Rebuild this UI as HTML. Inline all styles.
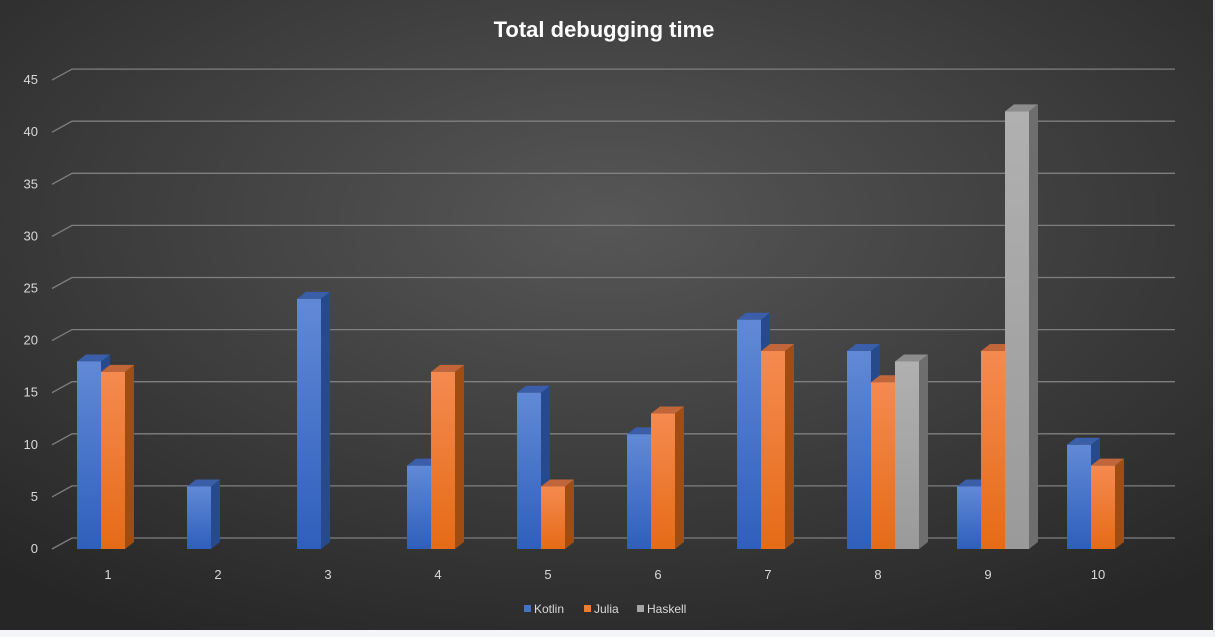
<!DOCTYPE html>
<html><head><meta charset="utf-8"><style>
html,body{margin:0;padding:0;background:#fff;}
#wrap{position:relative;width:1215px;height:637px;overflow:hidden;}
svg text{font-family:"Liberation Sans",sans-serif;}
</style></head><body>
<div id="wrap">
<svg id="chart" width="1215" height="637" xmlns="http://www.w3.org/2000/svg">
<defs>
<radialGradient id="bg" cx="0.5" cy="0.35" r="0.75">
<stop offset="0" stop-color="#575757"/><stop offset="1" stop-color="#262626"/></radialGradient>
<linearGradient id="gK" x1="0" y1="0" x2="0" y2="1"><stop offset="0" stop-color="#6189d6"/><stop offset="1" stop-color="#2f5fbc"/></linearGradient>
<linearGradient id="gJ" x1="0" y1="0" x2="0" y2="1"><stop offset="0" stop-color="#f58a50"/><stop offset="1" stop-color="#e56b16"/></linearGradient>
<linearGradient id="gH" x1="0" y1="0" x2="0" y2="1"><stop offset="0" stop-color="#b0b0b0"/><stop offset="1" stop-color="#9a9a9a"/></linearGradient>
</defs>
<rect x="0" y="0" width="1213" height="630" fill="url(#bg)"/>
<rect x="0" y="630" width="1215" height="7" fill="#f3f5f9"/>
<rect x="1213" y="0" width="2" height="637" fill="#eef0f3"/>
<text x="604" y="37" text-anchor="middle" fill="#fff" font-size="22" font-weight="bold">Total debugging time</text>
<g id="grid"></g><g id="bars"></g><g id="xlabels"></g>
<g>
<rect x="524" y="605" width="7" height="7" fill="#4472c4"/>
<text x="534" y="613" fill="#d9d9d9" font-size="12">Kotlin</text>
<rect x="584" y="605" width="7" height="7" fill="#ed7d31"/>
<text x="594" y="613" fill="#d9d9d9" font-size="12">Julia</text>
<rect x="637" y="605" width="7" height="7" fill="#a5a5a5"/>
<text x="647" y="613" fill="#d9d9d9" font-size="12">Haskell</text>
</g>
</svg>
</div>
<script>
const categories = ["1","2","3","4","5","6","7","8","9","10"];
const kotlin = [18,6,24,8,15,11,22,19,6,10];
const julia = [17,0,0,17,6,13,19,16,19,8];
const haskell = [0,0,0,0,0,0,0,18,42,0];
const yTicks = [0,5,10,15,20,25,30,35,40,45];

const NS="http://www.w3.org/2000/svg";
const base=549, scale=10.42, depthX=9, depthY=-7, gdx=20, gdy=-11;
function y(v){return base - v*scale;}
function xg(i){return 77 + i*110;}
function mk(tag,attrs,parent){const e=document.createElementNS(NS,tag);for(const k in attrs)e.setAttribute(k,attrs[k]);parent.appendChild(e);return e;}
const grid=document.getElementById('grid'), bars=document.getElementById('bars'), xl=document.getElementById('xlabels');
yTicks.forEach(t=>{
  const yf=y(t);
  const l=mk('polyline',{points:`52,${yf} 72,${yf+gdy} 1175,${yf+gdy}`,fill:'none',stroke:'#7f7f7f','stroke-width':1.3},grid);
  
  
  const tx=mk('text',{x:38,y:yf+4,'text-anchor':'end',fill:'#d9d9d9','font-size':13},grid);
  tx.textContent=t;
  
  
});
const series=[[kotlin,'url(#gK)','#3a5fa8','#264a8c','kotlin'],[julia,'url(#gJ)','#c0663a','#a14d12','julia'],[haskell,'url(#gH)','#8c8c8c','#6e6e6e','haskell']];
categories.forEach((c,i)=>{
  series.forEach((s,si)=>{
    const v=s[0][i]; if(!v) return;
    const x0=xg(i)+si*24, w=24, yt=y(v);
    const g=mk('g',{},bars);
    
    
    mk('polygon',{points:`${x0+w},${yt} ${x0+w+depthX},${yt+depthY} ${x0+w+depthX},${base+depthY} ${x0+w},${base}`,fill:s[3]},g);
    mk('polygon',{points:`${x0},${yt} ${x0+depthX},${yt+depthY} ${x0+w+depthX},${yt+depthY} ${x0+w},${yt}`,fill:s[2]},g);
    mk('rect',{x:x0,y:yt,width:w,height:base-yt,fill:s[1]},g);
  });
  const t=mk('text',{x:xg(i)+31,y:579,'text-anchor':'middle',fill:'#d9d9d9','font-size':13},xl);
  t.textContent=c;
  
  
});
</script>
</body></html>
